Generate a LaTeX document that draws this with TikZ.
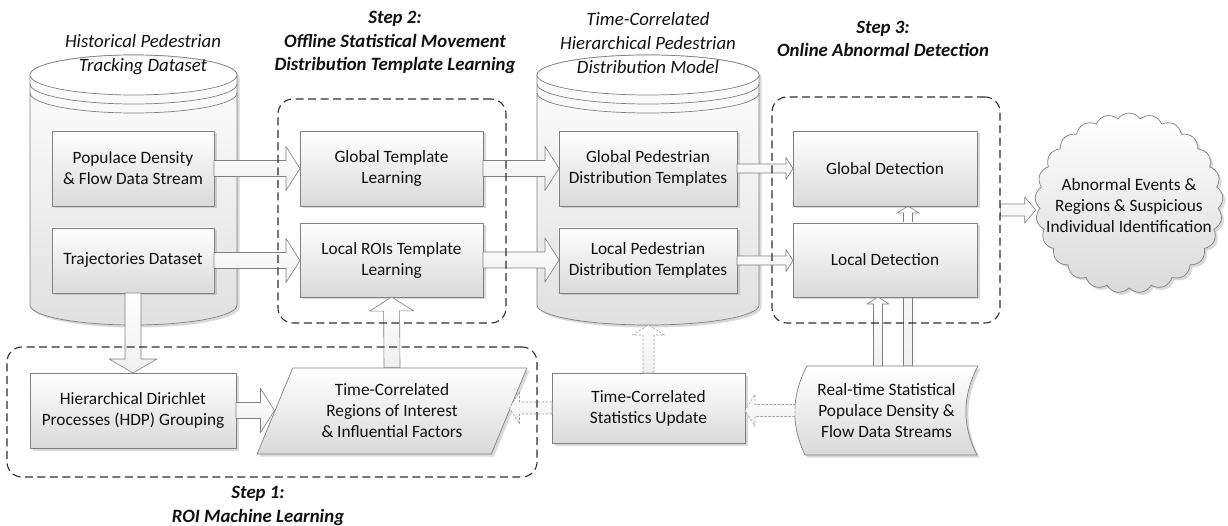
\documentclass[tikz,border=0pt]{standalone}
\usepackage{fontspec}
\setmainfont{Carlito}
\usetikzlibrary{shapes.geometric,shapes.symbols,shadows,calc,positioning,backgrounds}

\definecolor{edgegray}{HTML}{808080}
\definecolor{boxbot}{HTML}{DADADA}
\definecolor{txt}{HTML}{111111}
\definecolor{framegray}{HTML}{2E2E2E}

\pgfdeclarelayer{front}
\pgfsetlayers{background,main,front}

% block arrow: [style]{from}{to}{half shaft}{half head}{head length}
\newcommand{\blockarrow}[6][]{%
  \coordinate (ba-base) at ($(#3)!#6!(#2)$);
  \draw[arrowbody,#1] ($(#2)!#4!90:(#3)$) -- ($(ba-base)!#4!90:(#3)$)
    -- ($(ba-base)!#5!90:(#3)$) -- (#3) -- ($(ba-base)!#5!-90:(#3)$)
    -- ($(ba-base)!#4!-90:(#3)$) -- ($(#2)!#4!-90:(#3)$) -- cycle;}

\begin{document}
\begin{tikzpicture}[x=1pt, y=-1pt, line join=round,
  boxfill/.style={draw=edgegray, line width=0.7pt, top color=white, bottom color=boxbot,
    drop shadow={shadow xshift=2.5pt, shadow yshift=-2.5pt, opacity=0.3}},
  box/.style={boxfill, rectangle, align=center, inner sep=1pt, outer sep=0pt, text=txt,
    font=\fontsize{17.3}{21}\selectfont, minimum height=75pt},
  plain/.style={align=center, inner sep=0pt, text=txt, font=\fontsize{17.3}{21}\selectfont},
  title/.style={align=center, inner sep=0pt, text=txt, font=\itshape\fontsize{18.8}{24}\selectfont},
  steptitle/.style={title, font=\bfseries\itshape\fontsize{18.8}{23.5}\selectfont},
  frame/.style={draw=framegray, line width=1.1pt, dash pattern=on 8pt off 4.5pt,
    rounded corners=15pt, inner sep=0pt},
  arrowbody/.style={draw=edgegray, line width=0.6pt, top color=white, bottom color=gray!12},
  dotarrow/.style={dash pattern=on 2.5pt off 1.5pt, draw=gray!75},
  cylbody/.style={boxfill, bottom color=gray!24}]

\useasboundingbox (0,0) rectangle (1228,526);

% data stores
\foreach \xl/\xr in {30/237, 537/759} {
  \pgfmathsetlengthmacro{\rx}{(\xr-\xl)/2}
  \path[cylbody] (\xl,75) -- (\xl,305) arc[start angle=180, end angle=360, x radius=\rx, y radius=20pt]
    -- (\xr,75) arc[start angle=0, end angle=180, x radius=\rx, y radius=20pt] -- cycle;
  \draw[edgegray, line width=0.7pt, fill=white] (\xl,75) arc[start angle=180, end angle=-180, x radius=\rx, y radius=20pt];
  \draw[edgegray, line width=0.7pt] (\xl,84) arc[start angle=180, end angle=360, x radius=\rx, y radius=20pt];
  \draw[edgegray, line width=0.7pt] (\xl,93) arc[start angle=180, end angle=360, x radius=\rx, y radius=20pt];
}
\coordinate (model) at (648,325);

\node[title] (histlabel) at (143,55) {Historical Pedestrian\\Tracking Dataset};
\node[title] (modellabel) at (648,43.5) {Time-Correlated\\Hierarchical Pedestrian\\Distribution Model};
\node[steptitle] (s2label) at (395,42.5) {Step 2:\\Offline Statistical Movement\\Distribution Template Learning};
\node[steptitle] (s3label) at (883,39) {Step 3:\\Online Abnormal Detection};
\node[steptitle] (s1label) at (258,506) {Step 1:\\ROI Machine Learning};

% upper rows
\node[box, minimum width=162pt] (pop) at (133,168.5) {Populace Density\\\& Flow Data Stream};
\node[box, minimum width=162pt, minimum height=65pt, below=22pt of pop] (traj) {Trajectories Dataset};
\node[box, minimum width=183pt, right=86pt of pop] (gtl) {Global Template\\Learning};
\node[box, minimum width=183pt, minimum height=74pt, below=17pt of gtl] (ltl) {Local ROIs Template\\Learning};
\node[box, minimum width=178pt, right=76pt of gtl] (gpd) {Global Pedestrian\\Distribution Templates};
\node[box, minimum width=178pt, minimum height=65pt, below=22pt of gpd] (lpd) {Local Pedestrian\\Distribution Templates};
\node[box, minimum width=184pt, right=56pt of gpd] (gdet) {Global Detection};
\node[box, minimum width=184pt, minimum height=74pt, below=17pt of gdet] (ldet) {Local Detection};

% bottom row
\node[box, minimum width=206pt] (hdp) at (133,410.5) {Hierarchical Dirichlet\\Processes (HDP) Grouping};
\node[boxfill, trapezium, trapezium left angle=65, trapezium right angle=115, trapezium stretches=true,
  minimum width=270pt, minimum height=86pt, inner sep=0pt, align=center, text=txt,
  font=\fontsize{17.3}{21}\selectfont] (roi) at (392,411) {Time-Correlated\\Regions of Interest\\\& Influential Factors};
\node[box, minimum width=193pt, minimum height=70pt] (stat) at (648.5,408) {Time-Correlated\\Statistics Update};
\path[boxfill] (807,366) -- (978,366) .. controls (962,396) and (962,426) .. (977,455)
  -- (805,455) .. controls (791,426) and (791,396) .. (807,366) -- cycle;
\node[plain, minimum width=183pt, minimum height=89pt] (rt) at (886.5,410.5) {Real-time Statistical\\Populace Density \&\\Flow Data Streams};

% outcome
\node[boxfill, cloud, cloud puffs=25, cloud puff arc=110, aspect=1, minimum width=188pt,
  minimum height=180pt, inner sep=0pt] (cloud) at (1129,203) {};
\node[plain] (outcome) at ($(cloud.center)+(0,3)$) {Abnormal Events \&\\Regions \& Suspicious\\Individual Identification};

% step frames
\begin{pgfonlayer}{front}
\node[frame, minimum width=228pt, minimum height=224pt] (s2) at (392,211) {};
\node[frame, minimum width=228pt, minimum height=226pt] (s3) at (886,210) {};
\node[frame, minimum width=530pt, minimum height=130pt] (s1) at (272,412) {};
\end{pgfonlayer}

% arrows
\blockarrow{pop.east}{gtl.west}{8pt}{22pt}{14pt}
\coordinate (trajto) at (traj.east -| ltl.west);
\blockarrow{traj.east}{trajto}{8pt}{22pt}{14pt}
\blockarrow{gtl.east}{gpd.west}{8pt}{22pt}{14pt}
\coordinate (ltlto) at (ltl.east -| lpd.west);
\blockarrow{ltl.east}{ltlto}{8pt}{22pt}{14pt}
\blockarrow{gpd.east}{gdet.west}{4.5pt}{11pt}{7pt}
\coordinate (lpdto) at (lpd.east -| ldet.west);
\blockarrow{lpd.east}{lpdto}{4.5pt}{11pt}{7pt}
\coordinate (rtl) at ($(rt.north)+(-8.5,0)$);
\coordinate (rtlto) at (rtl |- ldet.south);
\blockarrow{rtl}{rtlto}{4.5pt}{11pt}{7pt}
\coordinate (rtg) at ($(rt.north)+(21.5,0)$);
\coordinate (rtgto) at (rtg |- gdet.south);
\begin{pgfonlayer}{background}
\blockarrow{rtg}{rtgto}{4.5pt}{11pt}{7pt}
\end{pgfonlayer}
\coordinate (s3to) at (s3.east -| cloud.west);
\blockarrow{s3.east}{s3to}{6pt}{13pt}{11pt}

\blockarrow{traj.south}{hdp.north}{8pt}{24pt}{14pt}
\coordinate (hdpto) at (hdp.east -| roi.west);
\blockarrow{hdp.east}{hdpto}{8pt}{22pt}{14pt}
\blockarrow{roi.north}{ltl.south}{8pt}{22pt}{14pt}
\coordinate (statto) at (stat.west -| roi.east);
\blockarrow[dotarrow]{stat.west}{statto}{6pt}{16pt}{10pt}
\coordinate (rtto) at (rt.west -| stat.east);
\blockarrow[dotarrow]{rt.west}{rtto}{6pt}{16pt}{10pt}
\coordinate (modelto) at (stat.north |- model);
\blockarrow[dotarrow]{stat.north}{modelto}{5.5pt}{16pt}{10pt}
\end{tikzpicture}
\end{document}
